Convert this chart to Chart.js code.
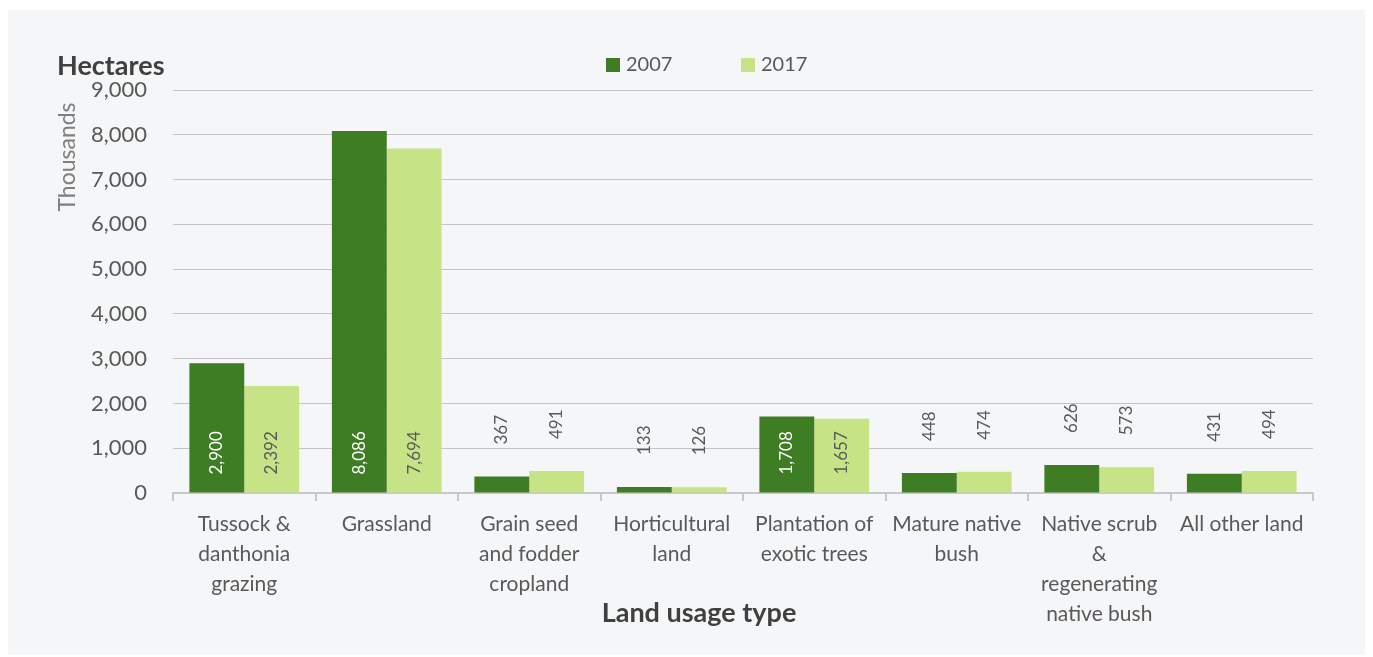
<!DOCTYPE html>
<html>
<head>
<meta charset="utf-8">
<script src="https://cdn.jsdelivr.net/npm/chart.js@4"></script>
<style>
  html, body { margin: 0; padding: 0; background: #ffffff; }
  #panel { position: absolute; left: 8px; top: 10px; width: 1357px; height: 645px; background: #f5f6f8; }
  #landChart { position: absolute; left: 0; top: 0; }
</style>
</head>
<body>
<div id="panel"></div>
<canvas id="landChart" width="1373" height="657"></canvas>
<script>
const categories = [
    ['Tussock &', 'danthonia', 'grazing'],
    ['Grassland'],
    ['Grain seed', 'and fodder', 'cropland'],
    ['Horticultural', 'land'],
    ['Plantation of', 'exotic trees'],
    ['Mature native', 'bush'],
    ['Native scrub', '&', 'regenerating', 'native bush'],
    ['All other land']
];
const values2007 = [2900, 8086, 367, 133, 1708, 448, 626, 431];
const values2017 = [2392, 7694, 491, 126, 1657, 474, 573, 494];
const seriesNames = ['2007', '2017'];

const darkGreen = '#3e7d24';
const lightGreen = '#c6e386';
const textGrey = '#595959';
const FONT = 'Lato, "Open Sans", sans-serif';

// rotated value labels: inside the bar for tall bars, above it for short ones
const barLabels = {
    id: 'barLabels',
    afterDatasetsDraw(chart) {
        const ctx = chart.ctx;
        ctx.save();
        ctx.font = '17px ' + FONT;
        ctx.textBaseline = 'middle';
        ctx.textAlign = 'left';
        chart.data.datasets.forEach((ds, i) => {
            chart.getDatasetMeta(i).data.forEach((bar, j) => {
                const v = ds.data[j];
                const txt = v.toLocaleString('en-US');
                const inside = v >= 1000;
                const y = inside ? bar.base - 18 : bar.y - 32;
                ctx.fillStyle = inside && i === 0 ? '#ffffff' : textGrey;
                ctx.save();
                ctx.translate(bar.x, y);
                ctx.rotate(-Math.PI / 2);
                ctx.fillText(txt, 0, 0);
                ctx.restore();
            });
        });
        ctx.restore();
    }
};

// titles, display-unit label and legend
const decorations = {
    id: 'decorations',
    afterDraw(chart) {
        const ctx = chart.ctx;
        ctx.save();
        ctx.fillStyle = '#404040';
        ctx.font = 'bold 27px ' + FONT;
        ctx.textBaseline = 'alphabetic';
        ctx.textAlign = 'left';
        ctx.fillText('Hectares', 57, 75);

        ctx.textAlign = 'center';
        ctx.fillText('Land usage type', 699, 622);

        ctx.fillStyle = '#7f7f7f';
        ctx.font = '23px ' + FONT;
        ctx.save();
        ctx.translate(68, 157);
        ctx.rotate(-Math.PI / 2);
        ctx.textBaseline = 'middle';
        ctx.fillText('Thousands', 0, 0);
        ctx.restore();

        // legend
        const items = [[606, darkGreen, seriesNames[0]], [741, lightGreen, seriesNames[1]]];
        ctx.font = '20px ' + FONT;
        ctx.textAlign = 'left';
        ctx.textBaseline = 'middle';
        items.forEach(([x, col, name]) => {
            ctx.fillStyle = col;
            ctx.fillRect(x, 58, 14, 14);
            ctx.fillStyle = textGrey;
            ctx.fillText(name, x + 20, 65);
        });
        ctx.restore();
    }
};

const ctx = document.getElementById('landChart').getContext('2d');
new Chart(ctx, {
    type: 'bar',
    data: {
        labels: categories,
        datasets: [
            { label: seriesNames[0], data: values2007, backgroundColor: darkGreen },
            { label: seriesNames[1], data: values2017, backgroundColor: lightGreen }
        ]
    },
    options: {
        responsive: false,
        animation: false,
        devicePixelRatio: 1,
        layout: { padding: { top: 90, right: 60, left: 0, bottom: 0 } },
        plugins: { legend: { display: false }, tooltip: { enabled: false } },
        datasets: { bar: { categoryPercentage: 0.77, barPercentage: 1.0 } },
        scales: {
            x: {
                offset: true,
                grid: { offset: true, drawOnChartArea: false, color: '#c8c8c8', lineWidth: 2, tickLength: 8 },
                border: { color: '#c8c8c8', width: 2 },
                ticks: {
                    color: textGrey,
                    font: { family: FONT, size: 21, lineHeight: 1.43 },
                    padding: 8,
                    maxRotation: 0,
                    autoSkip: false
                },
                afterFit: s => { s.height = 164; }
            },
            y: {
                min: 0,
                max: 9000,
                grid: { color: '#c4c4c4', lineWidth: 1, drawTicks: false },
                border: { display: false },
                ticks: {
                    stepSize: 1000,
                    color: textGrey,
                    font: { family: FONT, size: 22 },
                    padding: 26,
                    callback: v => v.toLocaleString('en-US')
                },
                afterFit: s => { s.width = 173; }
            }
        }
    },
    plugins: [barLabels, decorations]
});
</script>
</body>
</html>
